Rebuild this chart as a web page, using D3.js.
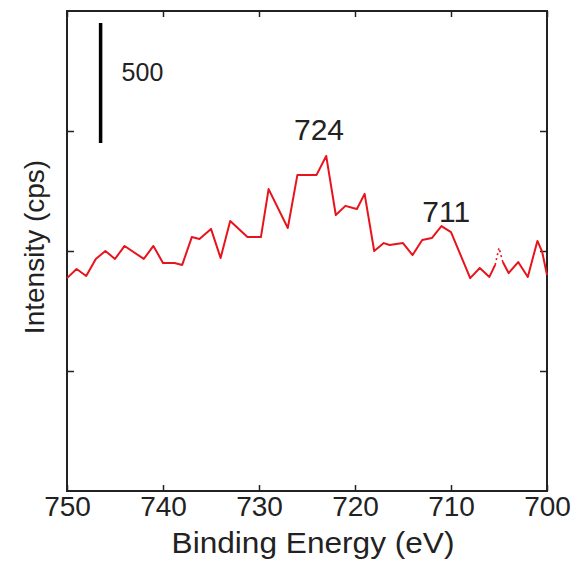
<!DOCTYPE html>
<html>
<head>
<meta charset="utf-8">
<script src="https://cdn.jsdelivr.net/npm/d3@7"></script>
<style>
  body { margin: 0; background: #fff; }
  text { font-family: "Liberation Sans", Arial, sans-serif; fill: #222; }
</style>
</head>
<body>
<div id="chart"></div>
<script>
// binding energy (eV) and intensity (cps, arbitrary offset)
const energy = [750, 749, 748, 747, 746, 745, 744, 742, 741, 740, 738.8, 738, 737, 736.2, 735, 734, 733,
    731.2, 729.8, 729, 727, 726, 724, 723, 722, 721, 720.2, 719.8, 719, 718, 717, 716.4, 715, 714, 713,
    712, 711, 710, 708, 707, 706, 705.4, 705, 704.6, 704, 703, 702, 701, 700.5, 700];
const intensity = [887, 925, 896, 967, 1000, 967, 1021, 967, 1021, 950, 950, 942, 1058, 1050, 1092, 971, 1125,
    1058, 1058, 1258, 1096, 1317, 1317, 1396, 1150, 1188, 1179, 1175, 1238, 1000, 1033, 1025, 1033, 983, 1046,
    1054, 1104, 1079, 887, 929, 892, 942, 1013, 954, 908, 954, 892, 1042, 996, 900];
const gapFrom = 705.4, gapTo = 704.6;   // faint dotted stretch
const xTicks = [750, 740, 730, 720, 710, 700];
const yTicks = [500, 1000, 1500];
const peakLabels = ["724", "711"];
const peakLabelE = [723.75, 710.5];
const peakLabelV = [1462, 1121];
const scaleBar = { value: 500, base: 1450, e: 746.5, label: "500" };

const data = energy.map((e, i) => ({ e: e, v: intensity[i] }));
const peaks = peakLabels.map((t, i) => ({ label: t, e: peakLabelE[i], v: peakLabelV[i] }));

const margin = { top: 11, right: 25, bottom: 71, left: 67 },
    width = 480,
    height = 480;

const svg = d3.select("#chart").append("svg")
    .attr("width", 572)
    .attr("height", 562);

const g = svg.append("g").attr("transform", `translate(${margin.left},${margin.top})`);

const x = d3.scaleLinear().domain([750, 700]).range([0, width]);
const y = d3.scaleLinear().domain([0, 2000]).range([height, 0]);

// axes with inward ticks
const bottom = g.append("g")
    .attr("transform", `translate(0,${height})`)
    .call(d3.axisBottom(x).tickValues(xTicks).tickSizeInner(-6).tickSizeOuter(0).tickPadding(5).tickFormat(d3.format("d")));
bottom.selectAll("text").style("font-size", "28px").attr("fill", "#222");

g.append("g")
    .call(d3.axisTop(x).tickValues(xTicks).tickSizeInner(-6).tickSizeOuter(0).tickFormat(""));
g.append("g")
    .call(d3.axisLeft(y).tickValues(yTicks).tickSizeInner(-7).tickSizeOuter(0).tickFormat(""));
g.append("g")
    .attr("transform", `translate(${width},0)`)
    .call(d3.axisRight(y).tickValues(yTicks).tickSizeInner(-7).tickSizeOuter(0).tickFormat(""));

g.selectAll(".domain").remove();
g.selectAll(".tick line").attr("stroke", "#222").attr("stroke-width", 1.5);

g.append("rect")
    .attr("width", width)
    .attr("height", height)
    .attr("fill", "none")
    .attr("stroke", "#222")
    .attr("stroke-width", 2);

// spectrum
const line = d3.line().x(d => x(d.e)).y(d => y(d.v));
g.append("path")
    .datum(data)
    .attr("fill", "none")
    .attr("stroke", "#e8141c")
    .attr("stroke-width", 2)
    .attr("stroke-linejoin", "round")
    .attr("d", line.defined(d => !(d.e < gapFrom && d.e > gapTo)));
g.append("path")
    .datum(data.filter(d => d.e <= gapFrom && d.e >= gapTo))
    .attr("fill", "none")
    .attr("stroke", "#e8141c")
    .attr("stroke-width", 1.6)
    .attr("stroke-dasharray", "2,3")
    .attr("d", d3.line().x(d => x(d.e)).y(d => y(d.v)));

// peak labels
g.selectAll(".peak")
    .data(peaks)
    .enter()
    .append("text")
    .attr("class", "peak")
    .attr("x", d => x(d.e))
    .attr("y", d => y(d.v))
    .attr("text-anchor", "middle")
    .style("font-size", "30px")
    .text(d => d.label);

// scale bar
g.append("line")
    .attr("x1", x(scaleBar.e)).attr("x2", x(scaleBar.e))
    .attr("y1", y(scaleBar.base)).attr("y2", y(scaleBar.base + scaleBar.value))
    .attr("stroke", "#000")
    .attr("stroke-width", 3.5);
g.append("text")
    .attr("x", x(scaleBar.e) + 21)
    .attr("y", y(scaleBar.base + scaleBar.value) + 58)
    .style("font-size", "25px")
    .text(scaleBar.label);

// axis titles
svg.append("text")
    .attr("transform", `translate(313,553) scale(1.09,1)`)
    .attr("text-anchor", "middle")
    .style("font-size", "29px")
    .text("Binding Energy (eV)");

svg.append("text")
    .attr("transform", `translate(44,${margin.top + height / 2 - 4}) rotate(-90)`)
    .attr("text-anchor", "middle")
    .style("font-size", "28px")
    .text("Intensity (cps)");
</script>
</body>
</html>
